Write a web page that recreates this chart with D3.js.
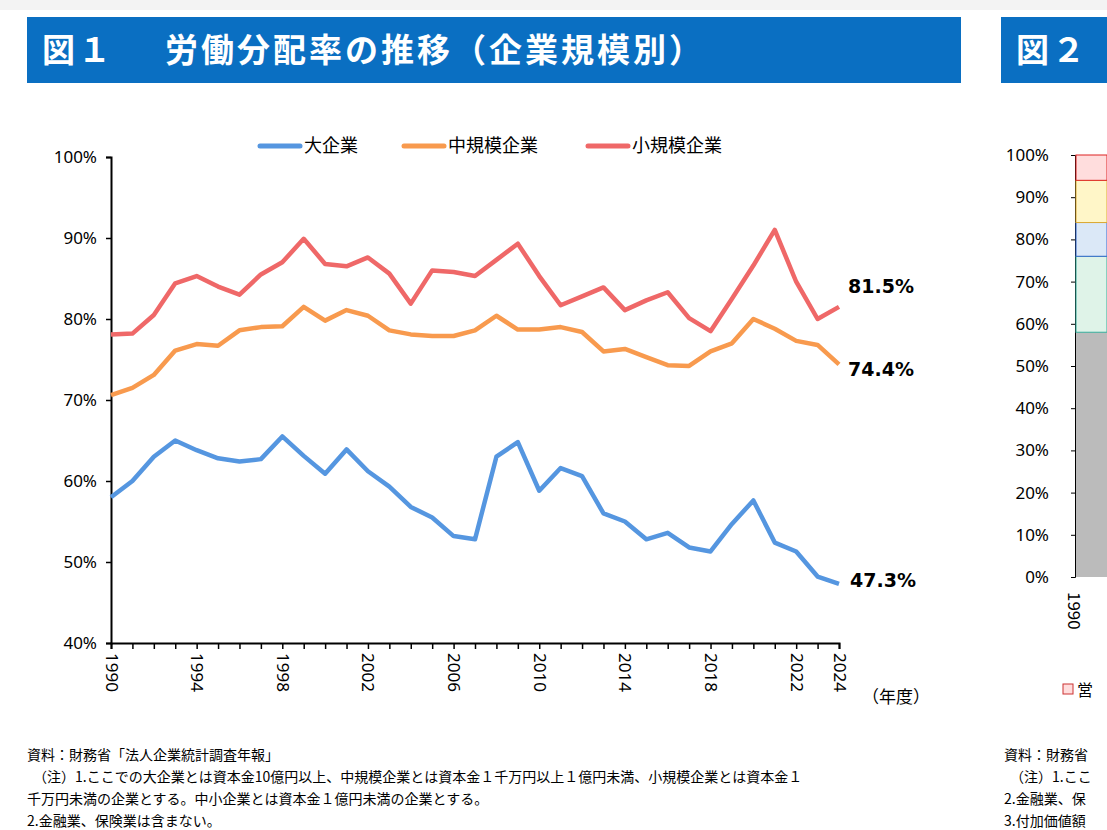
<!DOCTYPE html>
<html><head><meta charset="utf-8">
<script src="https://cdn.jsdelivr.net/npm/d3@7"></script>
<style>body{margin:0;background:#fff;font-family:"Noto Sans CJK JP","Noto Sans",sans-serif}</style>
</head><body><svg id="c" width="1107" height="830"></svg>
<script>
const years = d3.range(1990, 2025);
const large = [58.0,60.0,63.0,65.0,63.8,62.8,62.4,62.7,65.5,63.1,60.9,63.9,61.2,59.3,56.8,55.5,53.2,52.8,63.0,64.8,58.8,61.6,60.6,56.0,55.0,52.8,53.6,51.8,51.3,54.7,57.6,52.4,51.3,48.2,47.3];
const medium = [70.6,71.5,73.1,76.1,76.9,76.7,78.6,79.0,79.1,81.5,79.8,81.1,80.4,78.6,78.1,77.9,77.9,78.6,80.4,78.7,78.7,79.0,78.4,76.0,76.3,75.3,74.3,74.2,76.0,77.0,80.0,78.8,77.3,76.8,74.4];
const small = [78.1,78.2,80.5,84.4,85.3,84.0,83.0,85.5,87.0,89.9,86.8,86.5,87.6,85.6,81.9,86.0,85.8,85.3,87.3,89.3,85.3,81.7,82.8,83.9,81.1,82.3,83.3,80.1,78.5,82.5,86.6,91.0,84.6,80.0,81.5];
const seriesNames = ["大企業","中規模企業","小規模企業"];
const colors = ["#5596e0","#f89a4e","#ef6868"];
const yTicks = [40,50,60,70,80,90,100];
const xLabels = [1990,1994,1998,2002,2006,2010,2014,2018,2022,2024];
const notes = ["資料：財務省「法人企業統計調査年報」",
 "（注）1.ここでの大企業とは資本金10億円以上、中規模企業とは資本金１千万円以上１億円未満、小規模企業とは資本金１",
 "千万円未満の企業とする。中小企業とは資本金１億円未満の企業とする。",
 "2.金融業、保険業は含まない。"];
const notes2 = ["資料：財務省","（注）1.ここ","2.金融業、保","3.付加価値額"];
const y2Ticks = [0,10,20,30,40,50,60,70,80,90,100];

const svg = d3.select("#c");
svg.append("rect").attr("width",1107).attr("height",10).attr("fill","#f3f3f3");
// banners
svg.append("rect").attr("x",27).attr("y",17).attr("width",934).attr("height",66).attr("fill","#0a6fc2");
svg.append("text").attr("x",42).attr("y",62).attr("fill","#fff").attr("font-size",33).attr("font-weight","bold")
  .attr("letter-spacing",3).text("図１");
svg.append("text").attr("x",165).attr("y",62).attr("fill","#fff").attr("font-size",33).attr("font-weight","bold")
  .attr("letter-spacing",3).text("労働分配率の推移（企業規模別）");
svg.append("rect").attr("x",1001).attr("y",17).attr("width",120).attr("height",66).attr("fill","#0a6fc2");
svg.append("text").attr("x",1016).attr("y",62).attr("fill","#fff").attr("font-size",33).attr("font-weight","bold").attr("letter-spacing",3).text("図２");

const x = d3.scaleLinear().domain([1990,2024]).range([111,839]);
const y = d3.scaleLinear().domain([40,100]).range([643,157]);

const ya = svg.append("g").attr("transform","translate(111,0)")
  .call(d3.axisLeft(y).tickValues(yTicks).tickSize(5).tickFormat(d=>d+"%"));
const xa = svg.append("g").attr("transform","translate(0,643)")
  .call(d3.axisBottom(x).tickValues(years).tickSize(6).tickFormat(d=>xLabels.includes(d)?d:""));
[ya,xa].forEach(a=>{a.select(".domain").attr("stroke","#000").attr("stroke-width",2);
  a.selectAll("line").attr("stroke","#000").attr("stroke-width",1.5);
  a.selectAll("text").attr("fill","#000").attr("font-size",17).attr("font-family","Noto Sans, sans-serif");});
ya.selectAll("text").attr("x",-14);
xa.selectAll("text").attr("transform","rotate(90)").attr("text-anchor","start").attr("x",10).attr("y",0).attr("dy","0.35em");
svg.append("text").attr("x",862).attr("y",703).attr("font-size",17).text("（年度）");

const line = d3.line().x((d,i)=>x(years[i])).y(d=>y(d));
[large,medium,small].forEach((s,i)=>{
  svg.append("path").attr("d",line(s)).attr("fill","none").attr("stroke",colors[i]).attr("stroke-width",4.5).attr("stroke-linejoin","round");
});
const endLabels = [[large,"47.3%",850,587],[medium,"74.4%",848,376],[small,"81.5%",848,293]];
endLabels.forEach(d=>svg.append("text").attr("x",d[2]).attr("y",d[3]).attr("font-size",19).attr("font-weight","bold")
  .attr("font-family","DejaVu Sans, sans-serif").text(d[1]));

// legend
const lx = [260,404,588];
seriesNames.forEach((n,i)=>{
  svg.append("line").attr("x1",lx[i]).attr("x2",lx[i]+40).attr("y1",146).attr("y2",146)
    .attr("stroke",colors[i]).attr("stroke-width",5).attr("stroke-linecap","round");
  svg.append("text").attr("x",lx[i]+44).attr("y",152).attr("font-size",18).text(n);
});

// notes
notes.forEach((t,i)=>svg.append("text").attr("x",i===1?33:27).attr("y",760+i*22).attr("font-size",14).text(t));
notes2.forEach((t,i)=>svg.append("text").attr("x",i===1?1010:1004).attr("y",760+i*22).attr("font-size",14).text(t));

// partial figure 2
const y2 = d3.scaleLinear().domain([0,100]).range([577,155]);
const a2 = svg.append("g").attr("transform","translate(1075,0)")
  .call(d3.axisLeft(y2).tickValues(y2Ticks).tickSize(4).tickFormat(d=>d+"%"));
a2.select(".domain").attr("stroke","#000");
a2.selectAll("text").attr("font-size",17).attr("fill","#000").attr("font-family","Noto Sans, sans-serif").attr("x",-26);
svg.append("rect").attr("x",1076).attr("y",y2(58)).attr("width",31).attr("height",y2(0)-y2(58)).attr("fill","#bbb");
svg.append("rect").attr("x",1076).attr("y",y2(76)).attr("width",31).attr("height",y2(58)-y2(76)).attr("fill","#dff3e8").attr("stroke","#3a9");
svg.append("rect").attr("x",1076).attr("y",y2(84)).attr("width",31).attr("height",y2(76)-y2(84)).attr("fill","#dbe8f7").attr("stroke","#36c");
svg.append("rect").attr("x",1076).attr("y",y2(94)).attr("width",31).attr("height",y2(84)-y2(94)).attr("fill","#fff6c8").attr("stroke","#da3");
svg.append("rect").attr("x",1076).attr("y",y2(100)).attr("width",31).attr("height",y2(94)-y2(100)).attr("fill","#fdd").attr("stroke","#d22");
svg.append("text").attr("transform","translate(1068,592) rotate(90)").attr("font-size",17).text("1990");
svg.append("rect").attr("x",1063).attr("y",684).attr("width",10).attr("height",10).attr("fill","#fdd").attr("stroke","#c33");
svg.append("text").attr("x",1077).attr("y",696).attr("font-size",16).text("営");
</script></body></html>
